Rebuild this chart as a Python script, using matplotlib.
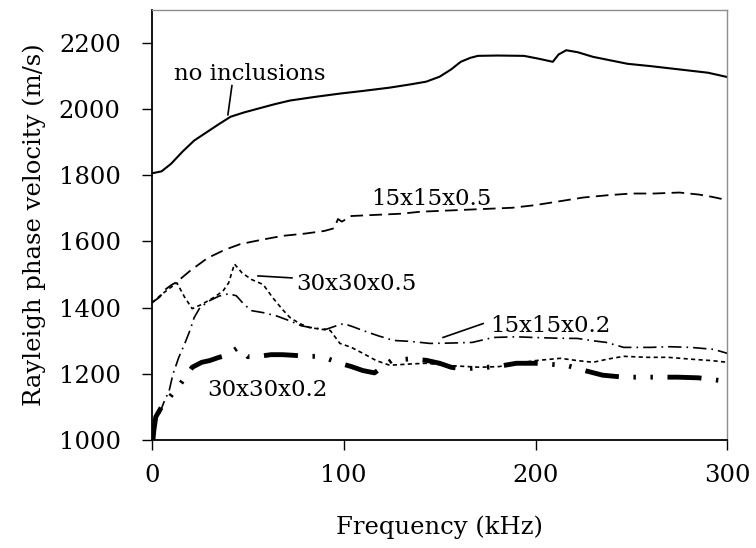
import matplotlib
matplotlib.use("Agg")
import matplotlib.pyplot as plt

# values (kHz, m/s)
no_incl_x = [0, 5, 10, 16, 22, 29, 35, 41, 48, 55, 64, 72, 85, 98, 110, 124, 135, 143, 150,
             156, 161, 166, 170, 180, 194, 202, 209, 212, 216, 222, 230, 248, 260, 272, 290, 300]
no_incl_y = [1806, 1812, 1835, 1872, 1905, 1932, 1955, 1977, 1990, 2001, 2015, 2026, 2037, 2047,
             2055, 2065, 2075, 2083, 2098, 2120, 2143, 2155, 2161, 2162, 2161, 2152, 2143, 2165,
             2178, 2172, 2158, 2137, 2130, 2122, 2110, 2097]

d15_05_x = [0, 4, 7, 10, 13, 20, 29, 38, 46, 57, 68, 80, 90, 95, 97, 99, 104, 115, 130, 140,
            160, 188, 200, 213, 225, 238, 250, 262, 275, 285, 292, 300]
d15_05_y = [1415, 1432, 1455, 1468, 1478, 1512, 1550, 1575, 1592, 1605, 1617, 1624, 1632, 1640,
            1668, 1660, 1677, 1680, 1684, 1690, 1695, 1702, 1710, 1722, 1733, 1740, 1745, 1745,
            1748, 1742, 1735, 1725]

d30_05_x = [0, 5, 10, 13, 17, 21, 26, 32, 37, 40, 43, 47, 52, 58, 63, 68, 72, 77, 82, 88, 93,
            98, 104, 110, 117, 124, 135, 143, 155, 171, 181, 190, 200, 213, 222, 230, 238, 246,
            258, 269, 282, 292, 300]
d30_05_y = [1415, 1440, 1462, 1475, 1432, 1397, 1410, 1430, 1450, 1475, 1532, 1505, 1485, 1470,
            1430, 1395, 1370, 1352, 1340, 1335, 1331, 1292, 1280, 1262, 1240, 1226, 1230, 1232,
            1225, 1220, 1222, 1232, 1240, 1247, 1240, 1235, 1245, 1253, 1250, 1250, 1244, 1240,
            1235]

d15_02_x = [4, 6, 9, 11, 14, 17, 20, 22, 25, 30, 35, 40, 44, 48, 52, 58, 65, 72, 78, 85, 91,
            96, 100, 105, 110, 118, 126, 135, 145, 155, 167, 178, 190, 199, 210, 222, 230, 237,
            246, 260, 270, 281, 293, 300]
d15_02_y = [1080, 1111, 1150, 1200, 1250, 1290, 1334, 1370, 1400, 1421, 1435, 1442, 1436, 1410,
            1391, 1385, 1375, 1360, 1345, 1338, 1335, 1345, 1352, 1342, 1331, 1315, 1301, 1298,
            1292, 1293, 1295, 1310, 1312, 1310, 1308, 1307, 1300, 1295, 1280, 1280, 1282, 1280,
            1274, 1262]

d30_02_x = [0.5, 1, 2, 3, 5, 8, 12, 15, 18, 21, 26, 30, 35, 39, 45, 50, 56, 62, 68, 74, 80, 86,
            92, 98, 104, 110, 116, 125, 134, 143, 150, 156, 162, 170, 180, 190, 200, 210, 216,
            225, 235, 246, 255, 265, 274, 285, 296, 300]
d30_02_y = [1000, 1030, 1070, 1080, 1100, 1120, 1150, 1171, 1195, 1220, 1235, 1240, 1250, 1256,
            1280, 1252, 1253, 1258, 1258, 1256, 1253, 1253, 1245, 1232, 1222, 1210, 1203, 1241,
            1245, 1241, 1232, 1220, 1215, 1218, 1222, 1232, 1232, 1228, 1226, 1211, 1196, 1190,
            1190, 1190, 1190, 1188, 1180, 1178]

plt.rcParams['font.family'] = ['DejaVu Serif']

fig = plt.figure(figsize=(7.56, 5.48), dpi=100)
ax = fig.add_axes([0.201, 0.197, 0.761, 0.785])

ax.plot(no_incl_x, no_incl_y, color='black', lw=1.5)
ax.plot(d15_05_x, d15_05_y, color='black', lw=1.3, dashes=(7, 3.5))
ax.plot(d30_05_x, d30_05_y, color='black', lw=1.2, dashes=(2.5, 2))
ax.plot(d15_02_x, d15_02_y, color='black', lw=1.2, dashes=(8, 3, 1, 3))
ax.plot(d30_02_x, d30_02_y, color='black', lw=3.5, dashes=(7, 3, 0.5, 3, 0.5, 3))

fs = 16.5
ax.text(51, 2107, 'no inclusions', fontsize=fs, ha='center', va='center')
ax.plot([41.7, 39.6], [2071, 1983], color='black', lw=1.2)
ax.text(145.5, 1728, '15x15x0.5', fontsize=fs, ha='center', va='center')
ax.text(106.4, 1472, '30x30x0.5', fontsize=fs, ha='center', va='center')
ax.plot([55.3, 73], [1496, 1490], color='black', lw=1.2)
ax.text(207.6, 1346, '15x15x0.2', fontsize=fs, ha='center', va='center')
ax.plot([151.8, 172.7], [1310, 1352], color='black', lw=1.2)
ax.text(60, 1150, '30x30x0.2', fontsize=fs, ha='center', va='center')

ax.set_xlim(0, 300)
ax.set_ylim(1000, 2300)
ax.set_xticks([0, 100, 200, 300])
ax.set_yticks(range(1000, 2201, 200))
ax.tick_params(labelsize=17.5, length=7.5, width=1, color='black', direction='out')
ax.tick_params(axis='x', pad=10)
ax.tick_params(axis='y', pad=15)

for s in ['left', 'bottom']:
    ax.spines[s].set_color('black')
    ax.spines[s].set_linewidth(1.3)
for s in ['top', 'right']:
    ax.spines[s].set_color('#8c8c8c')
    ax.spines[s].set_linewidth(1.0)

ax.set_xlabel('Frequency (kHz)', fontsize=17.5, labelpad=20)
ax.set_ylabel('Rayleigh phase velocity (m/s)', fontsize=17.5, labelpad=9)

fig.savefig('out.png', dpi=100)
